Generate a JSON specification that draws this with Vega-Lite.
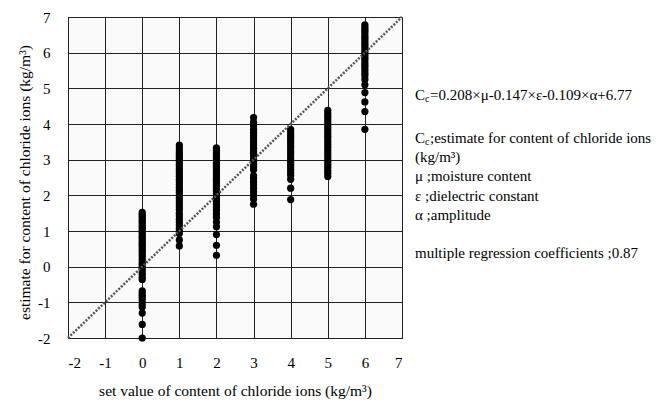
{
  "$schema": "https://vega.github.io/schema/vega-lite/v6.json",
  "width": 334,
  "height": 321,
  "autosize": {"type": "none"},
  "padding": {"left": 68, "top": 17, "right": 270, "bottom": 65},
  "background": "white",
  "config": {
    "view": {"fill": "#fafafa", "stroke": "#000", "strokeWidth": 1},
    "font": "Liberation Serif",
    "axis": {
      "labelFont": "Liberation Serif", "labelFontSize": 15, "labelColor": "#000",
      "titleFont": "Liberation Serif", "titleFontSize": 15.5, "titleFontWeight": "normal", "titleColor": "#000",
      "grid": true, "gridColor": "#222", "gridOpacity": 1, "gridWidth": 1,
      "domain": false, "ticks": false, "labelExpr": "'' + datum.value"
    }
  },
  "datasets": {
    "pts": [
      {"x":0,"y":1.52},{"x":0,"y":1.47},{"x":0,"y":1.42},{"x":0,"y":1.37},{"x":0,"y":1.31},{"x":0,"y":1.26},{"x":0,"y":1.2},{"x":0,"y":1.14},{"x":0,"y":1.09},{"x":0,"y":1.03},{"x":0,"y":0.98},{"x":0,"y":0.92},{"x":0,"y":0.86},{"x":0,"y":0.81},{"x":0,"y":0.75},{"x":0,"y":0.69},{"x":0,"y":0.63},{"x":0,"y":0.58},{"x":0,"y":0.52},{"x":0,"y":0.46},{"x":0,"y":0.4},{"x":0,"y":0.33},{"x":0,"y":0.27},{"x":0,"y":0.2},{"x":0,"y":0.13},{"x":0,"y":0.07},{"x":0,"y":0.0},{"x":0,"y":-0.07},{"x":0,"y":-0.15},{"x":0,"y":-0.22},{"x":0,"y":-0.3},{"x":0,"y":-0.36},{"x":0,"y":-0.68},{"x":0,"y":-0.74},{"x":0,"y":-0.8},{"x":0,"y":-0.87},{"x":0,"y":-0.95},{"x":0,"y":-1.05},{"x":0,"y":-1.13},{"x":0,"y":-1.3},{"x":0,"y":-1.62},{"x":0,"y":-2.0},
      {"x":1,"y":3.41},{"x":1,"y":3.33},{"x":1,"y":3.25},{"x":1,"y":3.18},{"x":1,"y":3.12},{"x":1,"y":3.06},{"x":1,"y":3.0},{"x":1,"y":2.94},{"x":1,"y":2.87},{"x":1,"y":2.8},{"x":1,"y":2.73},{"x":1,"y":2.66},{"x":1,"y":2.6},{"x":1,"y":2.53},{"x":1,"y":2.45},{"x":1,"y":2.38},{"x":1,"y":2.3},{"x":1,"y":2.22},{"x":1,"y":2.15},{"x":1,"y":2.08},{"x":1,"y":2.0},{"x":1,"y":1.92},{"x":1,"y":1.84},{"x":1,"y":1.76},{"x":1,"y":1.68},{"x":1,"y":1.6},{"x":1,"y":1.5},{"x":1,"y":1.42},{"x":1,"y":1.33},{"x":1,"y":1.25},{"x":1,"y":1.17},{"x":1,"y":1.08},{"x":1,"y":1.0},{"x":1,"y":0.93},{"x":1,"y":0.75},{"x":1,"y":0.58},
      {"x":2,"y":3.33},{"x":2,"y":3.26},{"x":2,"y":3.2},{"x":2,"y":3.14},{"x":2,"y":3.08},{"x":2,"y":3.02},{"x":2,"y":2.96},{"x":2,"y":2.9},{"x":2,"y":2.84},{"x":2,"y":2.78},{"x":2,"y":2.72},{"x":2,"y":2.66},{"x":2,"y":2.6},{"x":2,"y":2.54},{"x":2,"y":2.48},{"x":2,"y":2.42},{"x":2,"y":2.36},{"x":2,"y":2.3},{"x":2,"y":2.24},{"x":2,"y":2.18},{"x":2,"y":2.12},{"x":2,"y":2.05},{"x":2,"y":1.98},{"x":2,"y":1.9},{"x":2,"y":1.82},{"x":2,"y":1.74},{"x":2,"y":1.66},{"x":2,"y":1.58},{"x":2,"y":1.48},{"x":2,"y":1.38},{"x":2,"y":1.25},{"x":2,"y":1.12},{"x":2,"y":0.9},{"x":2,"y":0.6},{"x":2,"y":0.32},
      {"x":3,"y":4.18},{"x":3,"y":4.05},{"x":3,"y":3.95},{"x":3,"y":3.85},{"x":3,"y":3.77},{"x":3,"y":3.7},{"x":3,"y":3.62},{"x":3,"y":3.55},{"x":3,"y":3.48},{"x":3,"y":3.4},{"x":3,"y":3.32},{"x":3,"y":3.25},{"x":3,"y":3.18},{"x":3,"y":3.1},{"x":3,"y":3.02},{"x":3,"y":2.95},{"x":3,"y":2.87},{"x":3,"y":2.8},{"x":3,"y":2.72},{"x":3,"y":2.55},{"x":3,"y":2.47},{"x":3,"y":2.38},{"x":3,"y":2.3},{"x":3,"y":2.2},{"x":3,"y":2.1},{"x":3,"y":2.0},{"x":3,"y":1.9},{"x":3,"y":1.75},
      {"x":4,"y":3.85},{"x":4,"y":3.78},{"x":4,"y":3.7},{"x":4,"y":3.63},{"x":4,"y":3.55},{"x":4,"y":3.48},{"x":4,"y":3.4},{"x":4,"y":3.33},{"x":4,"y":3.25},{"x":4,"y":3.18},{"x":4,"y":3.1},{"x":4,"y":3.02},{"x":4,"y":2.95},{"x":4,"y":2.87},{"x":4,"y":2.8},{"x":4,"y":2.72},{"x":4,"y":2.64},{"x":4,"y":2.56},{"x":4,"y":2.45},{"x":4,"y":2.2},{"x":4,"y":1.88},
      {"x":5,"y":4.38},{"x":5,"y":4.3},{"x":5,"y":4.22},{"x":5,"y":4.14},{"x":5,"y":4.06},{"x":5,"y":3.98},{"x":5,"y":3.9},{"x":5,"y":3.82},{"x":5,"y":3.74},{"x":5,"y":3.66},{"x":5,"y":3.58},{"x":5,"y":3.5},{"x":5,"y":3.42},{"x":5,"y":3.34},{"x":5,"y":3.26},{"x":5,"y":3.18},{"x":5,"y":3.1},{"x":5,"y":3.02},{"x":5,"y":2.94},{"x":5,"y":2.86},{"x":5,"y":2.78},{"x":5,"y":2.7},{"x":5,"y":2.62},{"x":5,"y":2.53},
      {"x":6,"y":6.78},{"x":6,"y":6.72},{"x":6,"y":6.66},{"x":6,"y":6.6},{"x":6,"y":6.53},{"x":6,"y":6.46},{"x":6,"y":6.4},{"x":6,"y":6.33},{"x":6,"y":6.26},{"x":6,"y":6.2},{"x":6,"y":6.13},{"x":6,"y":6.06},{"x":6,"y":6.0},{"x":6,"y":5.93},{"x":6,"y":5.86},{"x":6,"y":5.8},{"x":6,"y":5.72},{"x":6,"y":5.65},{"x":6,"y":5.58},{"x":6,"y":5.5},{"x":6,"y":5.42},{"x":6,"y":5.35},{"x":6,"y":5.25},{"x":6,"y":5.1},{"x":6,"y":4.88},{"x":6,"y":4.62},{"x":6,"y":4.35},{"x":6,"y":3.85}
    ],
    "diag": [{"x":-2,"y":-2},{"x":7,"y":7}],
    "notes": [
      {"x":7.35,"y":4.81,"t":"C"},
      {"x":7.35,"y":3.6,"t":"C"},
      {"x":7.35,"y":3.07,"t":"(kg/m³)"},
      {"x":7.35,"y":2.54,"t":"μ ;moisture content"},
      {"x":7.35,"y":1.98,"t":"ε ;dielectric constant"},
      {"x":7.35,"y":1.45,"t":"α ;amplitude"},
      {"x":7.35,"y":0.38,"t":"multiple regression coefficients ;0.87"}
    ],
    "subs": [
      {"x":7.35,"y":4.81,"t":"c"},
      {"x":7.35,"y":3.6,"t":"c"}
    ],
    "rest": [
      {"x":7.35,"y":4.81,"t":"=0.208×μ-0.147×ε-0.109×α+6.77"},
      {"x":7.35,"y":3.6,"t":";estimate for content of  chloride ions"}
    ]
  },
  "encoding": {
    "x": {"field": "x", "type": "quantitative",
      "scale": {"domain": [-2, 7], "nice": false, "zero": false},
      "axis": {"values": [-2,-1,0,1,2,3,4,5,6,7], "labelPadding": 17, "titlePadding": 13,
        "title": "set value of content of chloride ions  (kg/m³)"}},
    "y": {"field": "y", "type": "quantitative",
      "scale": {"domain": [-2, 7], "nice": false, "zero": false},
      "axis": {"values": [-2,-1,0,1,2,3,4,5,6,7], "labelPadding": 18, "titlePadding": 5, "titleY": 165,
        "title": "estimate for content of chloride ions  (kg/m³)"}}
  },
  "layer": [
    {"data": {"name": "pts"}, "mark": {"type": "circle", "size": 52, "color": "#000", "opacity": 1}},
    {"data": {"name": "diag"}, "mark": {"type": "line", "color": "#555", "strokeWidth": 2.5, "strokeDash": [2, 1.5]}},
    {"data": {"name": "notes"}, "mark": {"type": "text", "align": "left", "baseline": "middle", "fontSize": 15, "font": "Liberation Serif", "color": "#000"},
      "encoding": {"text": {"field": "t"}}},
    {"data": {"name": "subs"}, "mark": {"type": "text", "align": "left", "baseline": "middle", "fontSize": 10, "dx": 10, "dy": 4, "font": "Liberation Serif", "color": "#000"},
      "encoding": {"text": {"field": "t"}}},
    {"data": {"name": "rest"}, "mark": {"type": "text", "align": "left", "baseline": "middle", "fontSize": 15, "dx": 15, "font": "Liberation Serif", "color": "#000"},
      "encoding": {"text": {"field": "t"}}}
  ]
}
